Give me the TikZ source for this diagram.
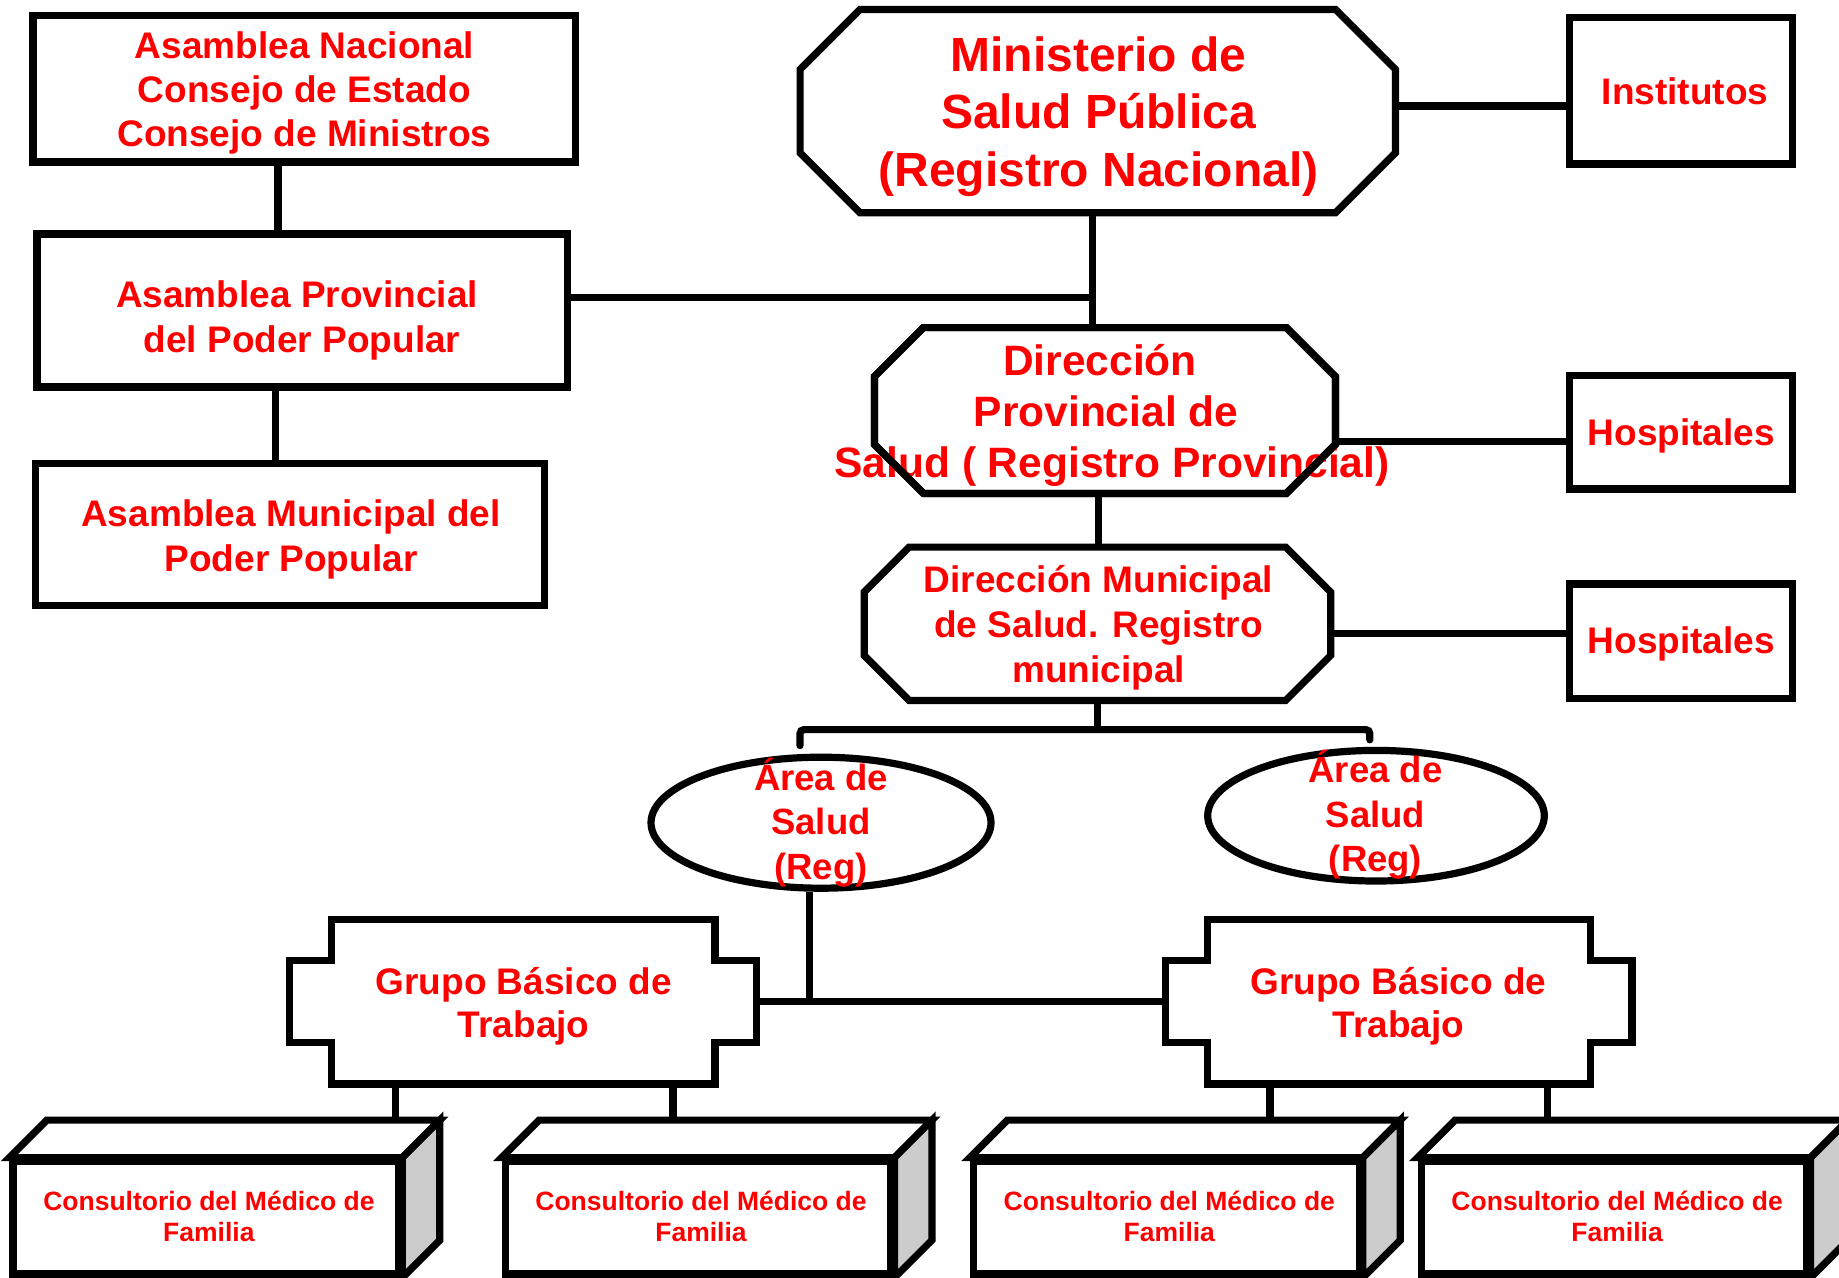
\documentclass[tikz,border=0pt]{standalone}
\usepackage{fontspec}
\setmainfont{Liberation Sans}
\usetikzlibrary{shapes.geometric}
\definecolor{sidegray}{RGB}{204,204,204}
\newcommand\fz[2]{\fontsize{#1pt}{#2pt}\selectfont\bfseries\lineskiplimit=-100pt\relax}
\newcommand\ks{\rule[-0.24em]{0pt}{1.196em}}
\pgfdeclarelayer{bg}
\pgfsetlayers{bg,main}
\tikzset{
  shp/.style={draw=black, line width=7.2pt, fill=white},
  con/.style={draw=black, line width=7.2pt},
  bx/.style={rectangle, shp, inner sep=0pt},
  frame/.style={rectangle, inner sep=0pt, draw=none},
  txt/.style={text=red, align=center, inner sep=0pt},
}
\newcommand\octo[3][]{%
  \draw[shp,#1] ([xshift=#3]#2.north west) -- ([xshift=-#3]#2.north east) -- ([yshift=-#3]#2.north east) -- ([yshift=#3]#2.south east) -- ([xshift=-#3]#2.south east) -- ([xshift=#3]#2.south west) -- ([yshift=#3]#2.south west) -- ([yshift=-#3]#2.north west) -- cycle;}
\newcommand\gbt[2]{%
  \draw[shp] ([xshift=#2]#1.north west) -- ([xshift=-#2]#1.north east) -- ([xshift=-#2,yshift=-#2]#1.north east) -- ([yshift=-#2]#1.north east) -- ([yshift=#2]#1.south east) -- ([xshift=-#2,yshift=#2]#1.south east) -- ([xshift=-#2]#1.south east) -- ([xshift=#2]#1.south west) -- ([xshift=#2,yshift=#2]#1.south west) -- ([yshift=#2]#1.south west) -- ([yshift=-#2]#1.north west) -- ([xshift=#2,yshift=-#2]#1.north west) -- cycle;}
\newcommand\cube[1]{%
  \draw[shp] (#1.north west) -- ([shift={(37.5,-37.5)}]#1.north west) -- ([shift={(37.5,-37.5)}]#1.north east) -- (#1.north east) -- cycle;
  \draw[shp, fill=sidegray] (#1.north east) -- ([shift={(37.5,-37.5)}]#1.north east) -- ([shift={(37.5,-37.5)}]#1.south east) -- (#1.south east) -- cycle;}
\begin{document}
\begin{tikzpicture}[x=1pt,y=-1pt]
\useasboundingbox (0,0) rectangle (1839,1277);

% ---- shapes ----
\node[bx, minimum width=542.7pt, minimum height=146.9pt] (b1) at (304.25,88.55) {};
\node[bx, minimum width=530.4pt, minimum height=153.1pt] (b2) at (302.2,310.45) {};
\node[bx, minimum width=508.7pt, minimum height=141.6pt] (b3) at (290.15,534.5) {};
\node[frame, minimum width=595pt, minimum height=203pt] (mn) at (1097.8,111.1) {};
\octo{mn}{60pt}
\node[bx, minimum width=222.9pt, minimum height=146.3pt] (in) at (1680.95,90.85) {};
\node[frame, minimum width=460.6pt, minimum height=165.4pt] (dp) at (1104.9,410.5) {};
\octo{dp}{49pt}
\node[bx, minimum width=222.9pt, minimum height=113.4pt] (h1) at (1680.95,432.3) {};
\node[frame, minimum width=466.1pt, minimum height=152.9pt] (dm) at (1097.45,623.75) {};
\octo{dm}{45pt}
\node[bx, minimum width=222.9pt, minimum height=114.4pt] (h2) at (1680.95,641.2) {};
\node[ellipse, shp, inner sep=0pt, minimum width=340pt, minimum height=131pt] (e1) at (821,822.7) {};
\node[ellipse, shp, inner sep=0pt, minimum width=336.6pt, minimum height=130.6pt] (e2) at (1376,815.7) {};
\node[frame, minimum width=466.4pt, minimum height=164.5pt] (g1) at (523.1,1001.55) {};
\gbt{g1}{41.5pt}
\node[frame, minimum width=465.9pt, minimum height=164.5pt] (g2) at (1398.85,1001.55) {};
\gbt{g2}{41.5pt}
\node[bx, minimum width=385.7pt, minimum height=112.8pt] (cA) at (205.85,1217.6) {};
\cube{cA}
\node[bx, minimum width=385.7pt, minimum height=112.8pt] (cB) at (698.05,1217.6) {};
\cube{cB}
\node[bx, minimum width=385.7pt, minimum height=112.8pt] (cC) at (1166.35,1217.6) {};
\cube{cC}
\node[bx, minimum width=385.7pt, minimum height=112.8pt] (cD) at (1614.15,1217.6) {};
\cube{cD}

% ---- texts ----
\node[txt, font=\fz{37}{44}] (t1) at (304.5,89) {\ks Asamblea Nacional\\\ks Consejo de Estado\\\ks Consejo de Ministros};
\node[txt, font=\fz{37}{45}] (t2) at (302,316.7) {\ks Asamblea Provincial\hbox to 10pt{}\\\ks del Poder Popular};
\node[txt, font=\fz{37}{44.5}] (t3) at (291,535.6) {\ks Asamblea Municipal del\\\ks Poder Popular};
\node[txt, font=\fz{48}{57.5}] (tmn) at (1098.5,111.4) {\ks Ministerio de\\\ks Salud Pública\\\ks (Registro Nacional)};
\node[txt, font=\fz{37}{44}] (tin) at (1685,91.5) {\ks Institutos};
\node[txt, font=\fz{42.5}{51}] (tdp) at (1112,411.4) {\ks Dirección\hbox to 24pt{}\\\ks Provincial de\hbox to 12pt{}\\\ks Salud ( Registro Provincial)};
\octo[fill=none]{dp}{49pt}
\node[txt, font=\fz{37}{44}] (th1) at (1681.4,432.1) {\ks Hospitales};
\node[txt, font=\fz{37}{45}] (tdm) at (1098.5,623.9) {\ks Dirección Municipal\\\ks de Salud. Registro\\\ks municipal};
\node[txt, font=\fz{37}{44}] (th2) at (1681.4,639.8) {\ks Hospitales};
\node[txt, font=\fz{36.5}{44.5}] (te1) at (821,821.6) {\ks Área de\\\ks Salud\\\ks (Reg)};
\node[txt, font=\fz{36.5}{44.5}] (te2) at (1375.5,814.2) {\ks Área de\\\ks Salud\\\ks (Reg)};
\node[txt, font=\fz{37}{43}] (tg1) at (523.7,1003.1) {\ks Grupo Básico de\\\ks Trabajo};
\node[txt, font=\fz{37}{43}] (tg2) at (1398.5,1003.1) {\ks Grupo Básico de\\\ks Trabajo};
\node[txt, font=\fz{26.5}{31.5}] (tcA) at (208.9,1216.3) {\ks Consultorio del Médico de\\\ks Familia};
\node[txt, font=\fz{26.5}{31.5}] (tcB) at (701,1216.3) {\ks Consultorio del Médico de\\\ks Familia};
\node[txt, font=\fz{26.5}{31.5}] (tcC) at (1169.3,1216.3) {\ks Consultorio del Médico de\\\ks Familia};
\node[txt, font=\fz{26.5}{31.5}] (tcD) at (1617.1,1216.3) {\ks Consultorio del Médico de\\\ks Familia};

% ---- connectors ----
\coordinate (xa) at (278,0);
\coordinate (xb) at (275.8,0);
\coordinate (j1) at (1092.7,297.6);
\coordinate (yi) at (0,106);
\coordinate (yh1) at (0,441.7);
\coordinate (xdp) at (1098.8,0);
\coordinate (yh2) at (0,633.7);
\coordinate (bar) at (1097.45,729.6);
\coordinate (xe) at (809.5,0);
\coordinate (xcA) at (395.5,0);
\coordinate (xcB) at (673,0);
\coordinate (xcC) at (1270,0);
\coordinate (xcD) at (1547.8,0);
\begin{pgfonlayer}{bg}
\fill[white] (0,0) rectangle (1839,1277);
\draw[con] (b1.south -| xa) -- (b2.north -| xa);
\draw[con] (b2.south -| xb) -- (b3.north -| xb);
\draw[con] (j1 -| b2.east) -- (j1);
\draw[con] (mn.south -| j1) -- (dp.north -| j1);
\draw[con] (mn.east |- yi) -- (in.west |- yi);
\draw[con] (dp.east |- yh1) -- (h1.west |- yh1);
\draw[con] (dp.south -| xdp) -- (dm.north -| xdp);
\draw[con] (dm.east |- yh2) -- (h2.west |- yh2);
\draw[con] (dm.south) -- (bar);
\draw[con, rounded corners=4pt, line cap=round] ([xshift=-21pt,yshift=8pt]e1.north) |- (bar) -| ([xshift=-6.2pt,yshift=7pt]e2.north);
\draw[con] (e1.south -| xe) -- (g1.east -| xe);
\draw[con] (g1.east) -- (g2.west);
\draw[con] (g1.south -| xcA) -- (cA.north -| xcA);
\draw[con] (g1.south -| xcB) -- (cB.north -| xcB);
\draw[con] (g2.south -| xcC) -- (cC.north -| xcC);
\draw[con] (g2.south -| xcD) -- (cD.north -| xcD);
\end{pgfonlayer}
\end{tikzpicture}
\end{document}
